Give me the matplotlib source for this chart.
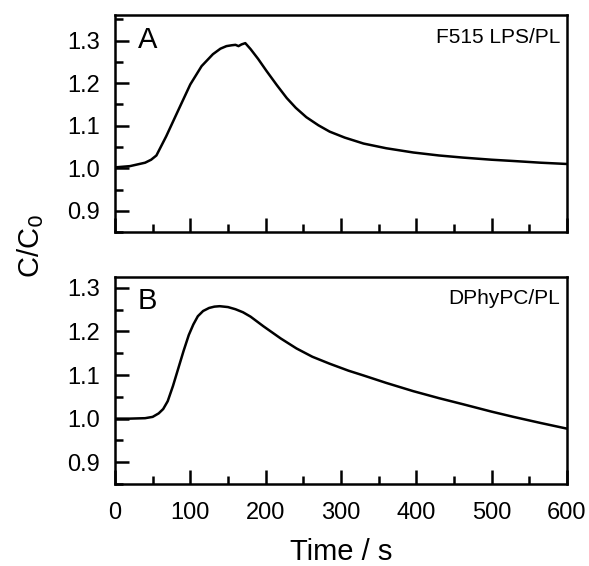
import numpy as np
import matplotlib
matplotlib.use('Agg')
import matplotlib.pyplot as plt
from matplotlib.ticker import MultipleLocator

plt.rcParams['font.family'] = ['Liberation Sans', 'DejaVu Sans']

# Panel A: F515 LPS/PL
t_a = [0, 20, 40, 48, 55, 68, 85, 100, 115, 130, 140, 148, 155, 160, 164, 168, 173,
       180, 190, 201, 215, 228, 240, 254, 270, 285, 305, 330, 360, 396, 430, 462, 500,
       529, 565, 600]
c_a = [1.002, 1.005, 1.013, 1.020, 1.030, 1.075, 1.140, 1.197, 1.240, 1.268, 1.281,
       1.287, 1.289, 1.290, 1.287, 1.291, 1.294, 1.280, 1.257, 1.229, 1.195, 1.165,
       1.142, 1.120, 1.101, 1.086, 1.072, 1.058, 1.047, 1.037, 1.030, 1.025, 1.020,
       1.017, 1.013, 1.010]

# Panel B: DPhyPC/PL
t_b = [0, 20, 40, 50, 58, 64, 70, 77, 84, 91, 98, 104, 110, 117, 125, 132, 139, 150,
       160, 170, 180, 197, 220, 241, 262, 285, 310, 330, 360, 396, 430, 462, 500, 529,
       565, 600]
c_b = [1.000, 1.000, 1.001, 1.004, 1.012, 1.022, 1.040, 1.075, 1.115, 1.155, 1.192,
       1.216, 1.235, 1.247, 1.254, 1.257, 1.258, 1.256, 1.251, 1.244, 1.234, 1.212,
       1.184, 1.161, 1.142, 1.126, 1.110, 1.099, 1.082, 1.063, 1.047, 1.033, 1.016,
       1.004, 0.990, 0.977]

fig = plt.figure(figsize=(5.89, 5.66), dpi=100)
ax1 = fig.add_axes([0.1952, 0.590, 0.7674, 0.3834])
ax2 = fig.add_axes([0.1952, 0.1449, 0.7674, 0.3657])

panels = [(ax1, t_a, c_a, 'A', 'F515 LPS/PL', (0.85, 1.36)),
          (ax2, t_b, c_b, 'B', 'DPhyPC/PL', (0.85, 1.325))]

for ax, t, c, letter, name, ylim in panels:
    ax.plot(t, c, color='black', lw=1.8)
    ax.set_xlim(0, 600)
    ax.set_ylim(*ylim)
    ax.xaxis.set_major_locator(MultipleLocator(100))
    ax.xaxis.set_minor_locator(MultipleLocator(50))
    ax.yaxis.set_major_locator(MultipleLocator(0.1))
    ax.yaxis.set_minor_locator(MultipleLocator(0.05))
    ax.tick_params(which='both', direction='in', width=1.8, labelsize=17,
                   top=False, right=False)
    ax.tick_params(which='major', length=10)
    ax.tick_params(which='minor', length=6)
    ax.tick_params(axis='y', pad=11)
    ax.tick_params(axis='x', pad=13)
    for sp in ax.spines.values():
        sp.set_linewidth(1.8)
    ax.text(0.05, 0.95, letter, transform=ax.transAxes, fontsize=21,
            ha='left', va='top')
    ax.text(0.985, 0.94, name, transform=ax.transAxes, fontsize=15,
            ha='right', va='top')

ax1.tick_params(labelbottom=False)
ax2.set_xlabel('Time / s', fontsize=21, labelpad=10)
fig.text(0.052, 0.565, 'C/C$_0$', rotation=90, fontsize=21,
         ha='center', va='center')

fig.savefig('out.png', dpi=100)
